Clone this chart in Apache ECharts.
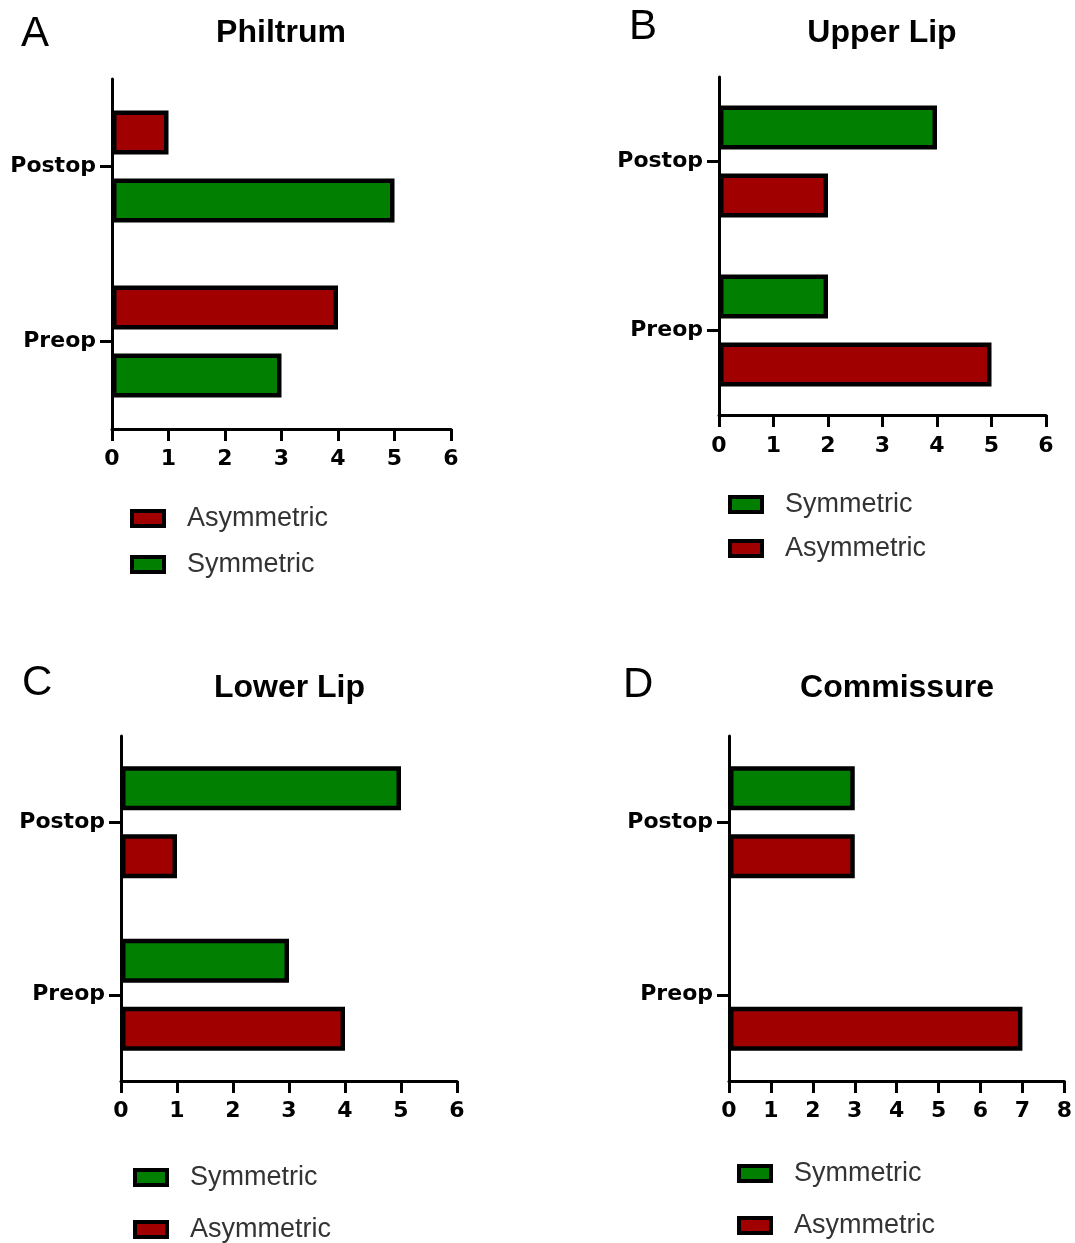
<!DOCTYPE html>
<html>
<head>
<meta charset="utf-8">
<script src="https://cdn.jsdelivr.net/npm/echarts@6/dist/echarts.min.js"></script>
<style>
html,body{margin:0;padding:0;background:#fff;}
#c{width:1075px;height:1243px;}
</style>
</head>
<body>
<div id="c"></div>
<script>
// Data
const categories = ['Preop', 'Postop'];
const panelTitles = ['Philtrum', 'Upper Lip', 'Lower Lip', 'Commissure'];
const panelLetters = ['A', 'B', 'C', 'D'];
const philtrumSymmetric = [3, 5];
const philtrumAsymmetric = [4, 1];
const upperLipSymmetric = [2, 4];
const upperLipAsymmetric = [5, 2];
const lowerLipSymmetric = [3, 5];
const lowerLipAsymmetric = [4, 1];
const commissureSymmetric = [0, 3];
const commissureAsymmetric = [7, 3];
const xMaxValues = [6, 6, 6, 8];

const RED = '#A00000', GREEN = '#007F00';
const grids = [
  {left:112, top:79, width:339, height:350},
  {left:719, top:77, width:327, height:338},
  {left:121, top:736, width:336, height:345},
  {left:729, top:736, width:336, height:345}
];
const xLabelMargins = [19, 20, 19, 19];
const labelFont = {fontFamily:'DejaVu Sans', fontWeight:'bold', fontSize:22, color:'#000'};

const xAxes = grids.map((g,i)=>({
  type:'value', gridIndex:i, min:0, max:xMaxValues[i], interval:1,
  axisLine:{show:true, lineStyle:{color:'#000', width:3}},
  axisTick:{show:true, length:12, lineStyle:{color:'#000', width:3}},
  splitLine:{show:false},
  axisLabel:Object.assign({margin:xLabelMargins[i]}, labelFont)
}));
const yAxes = grids.map((g,i)=>({
  type:'category', gridIndex:i, data:categories,
  axisLine:{show:true, lineStyle:{color:'#000', width:3}},
  axisTick:{show:true, alignWithLabel:true, length:12, lineStyle:{color:'#000', width:3}},
  axisLabel:Object.assign({margin:16}, labelFont)
}));

function bar(name, data, i){
  return {
    type:'bar', name:name, xAxisIndex:i, yAxisIndex:i,
    data:data.map(v => v === 0 ? {value:v, itemStyle:{borderWidth:0}} : v),
    barWidth:44, barGap:'55%',
    itemStyle:{color: name==='Symmetric'?GREEN:RED, borderColor:'#000', borderWidth:4.5},
    emphasis:{disabled:true}
  };
}
// series order: first series is drawn on top within each category
const series = [
  bar('Asymmetric', philtrumAsymmetric, 0),
  bar('Symmetric', philtrumSymmetric, 0),
  bar('Symmetric', upperLipSymmetric, 1),
  bar('Asymmetric', upperLipAsymmetric, 1),
  bar('Symmetric', lowerLipSymmetric, 2),
  bar('Asymmetric', lowerLipAsymmetric, 2),
  bar('Symmetric', commissureSymmetric, 3),
  bar('Asymmetric', commissureAsymmetric, 3)
];

const titleCenters = [[281,17],[882,17],[289.5,672],[897,672]];
const letterPos = [[21,13],[629,6],[22,662],[623,664]];
const titles = [];
panelTitles.forEach((t,i)=>titles.push({
  text:t, left:titleCenters[i][0], top:titleCenters[i][1], textAlign:'center', padding:0,
  textStyle:{fontFamily:'Liberation Sans', fontWeight:'bold', fontSize:32, color:'#000'}
}));
panelLetters.forEach((t,i)=>titles.push({
  text:t, left:letterPos[i][0], top:letterPos[i][1], padding:0,
  textStyle:{fontFamily:'Liberation Sans', fontWeight:'normal', fontSize:42, color:'#000'}
}));

const legendPos = [[130,505,19,['Asymmetric','Symmetric']],[728,491,17,['Symmetric','Asymmetric']],[133,1164,25,['Symmetric','Asymmetric']],[737,1160,25,['Symmetric','Asymmetric']]];
const legends = legendPos.map(p=>({
  orient:'vertical', left:p[0], top:p[1], itemGap:p[2], data:p[3], padding:0,
  itemWidth:32, itemHeight:15, icon:'rect', selectedMode:false,
  itemStyle:{borderColor:'#000', borderWidth:4},
  textStyle:{fontFamily:'Liberation Sans', fontSize:27, color:'#333', padding:[0,0,0,18]}
}));

const chart = echarts.init(document.getElementById('c'), null, {renderer:'canvas'});
chart.setOption({
  backgroundColor:'#fff',
  animation:false,
  title:titles,
  legend:legends,
  grid:grids,
  xAxis:xAxes,
  yAxis:yAxes,
  series:series
});
</script>
</body>
</html>
